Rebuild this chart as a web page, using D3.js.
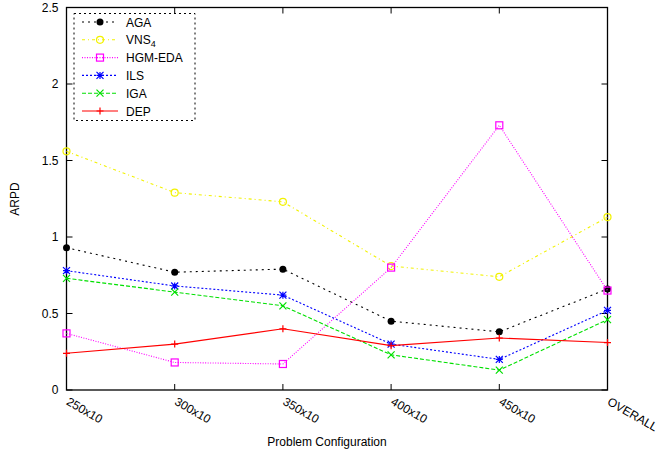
<!DOCTYPE html>
<html>
<head>
<meta charset="utf-8">
<script src="https://cdn.jsdelivr.net/npm/d3@7"></script>
<style>
  body { margin: 0; background: #fff; }
  text { font-family: "Liberation Sans", Arial, sans-serif; }
</style>
</head>
<body>
<script>
var categories = ["250x10", "300x10", "350x10", "400x10", "450x10", "OVERALL"];
var yTicks = [0, 0.5, 1, 1.5, 2, 2.5];

var aga = [0.93, 0.77, 0.79, 0.45, 0.38, 0.66];
var vns = [1.56, 1.29, 1.23, 0.81, 0.74, 1.13];
var hgm = [0.37, 0.18, 0.17, 0.80, 1.73, 0.65];
var ils = [0.78, 0.68, 0.62, 0.30, 0.20, 0.52];
var iga = [0.73, 0.64, 0.55, 0.23, 0.13, 0.46];
var dep = [0.24, 0.30, 0.40, 0.29, 0.34, 0.31];

var series = [
  {name: "AGA", values: aga, color: "#000000", dash: "2,4", marker: "dot"},
  {name: "VNS", sub: "4", values: vns, color: "#f2f200", dash: "3,3,1,3", marker: "circle"},
  {name: "HGM-EDA", values: hgm, color: "#ff00ff", dash: "1,1.5", marker: "square"},
  {name: "ILS", values: ils, color: "#0000ff", dash: "2,2", marker: "star"},
  {name: "IGA", values: iga, color: "#00e000", dash: "4,2", marker: "cross"},
  {name: "DEP", values: dep, color: "#ff0000", dash: null, marker: "plus"}
];

var width = 657, height = 454;
var plotLeft = 66.5, plotRight = 607.5, plotTop = 7.5, plotBottom = 390;

var svg = d3.select("body").append("svg")
  .attr("width", width)
  .attr("height", height);

var x = d3.scalePoint().domain(categories).range([plotLeft, plotRight]);
var y = d3.scaleLinear().domain([0, 2.5]).range([plotBottom, plotTop]);

// ticks (mirrored, inward)
var tickLen = 6;
yTicks.forEach(function(t){
  svg.append("line").attr("x1", plotLeft).attr("x2", plotLeft + tickLen)
    .attr("y1", y(t)).attr("y2", y(t)).attr("stroke", "#000");
  svg.append("line").attr("x1", plotRight).attr("x2", plotRight - tickLen)
    .attr("y1", y(t)).attr("y2", y(t)).attr("stroke", "#000");
  svg.append("text").attr("x", plotLeft - 8).attr("y", y(t) + 4)
    .attr("text-anchor", "end").attr("font-size", 12)
    .text(t);
});
categories.forEach(function(c){
  svg.append("line").attr("x1", x(c)).attr("x2", x(c))
    .attr("y1", plotBottom).attr("y2", plotBottom - tickLen).attr("stroke", "#000");
  svg.append("line").attr("x1", x(c)).attr("x2", x(c))
    .attr("y1", plotTop).attr("y2", plotTop + tickLen).attr("stroke", "#000");
  svg.append("text")
    .attr("transform", "translate(" + (x(c) - 1) + "," + (plotBottom + 14) + ") rotate(30)")
    .attr("font-size", 12)
    .text(c);
});

// frame
svg.append("rect").attr("x", plotLeft).attr("y", plotTop)
  .attr("width", plotRight - plotLeft).attr("height", plotBottom - plotTop)
  .attr("fill", "none").attr("stroke", "#000").attr("stroke-width", 1.3);

// axis titles
svg.append("text").attr("x", 327).attr("y", 446)
  .attr("text-anchor", "middle").attr("font-size", 12)
  .text("Problem Configuration");
svg.append("text")
  .attr("transform", "translate(19,199) rotate(-90)")
  .attr("text-anchor", "middle").attr("font-size", 12)
  .text("ARPD");

var line = d3.line()
  .x(function(d, i){ return x(categories[i]); })
  .y(function(d){ return y(d); });

function drawMarker(g, type, cx, cy, color){
  if (type == "dot") {
    g.append("circle").attr("cx", cx).attr("cy", cy).attr("r", 3.5).attr("fill", color);
  } else if (type == "circle") {
    g.append("circle").attr("cx", cx).attr("cy", cy).attr("r", 3.5)
      .attr("fill", "none").attr("stroke", color).attr("stroke-width", 1.2);
  } else if (type == "square") {
    g.append("rect").attr("x", cx - 3.5).attr("y", cy - 3.5).attr("width", 7).attr("height", 7)
      .attr("fill", "none").attr("stroke", color).attr("stroke-width", 1.2);
  } else {
    var p = "";
    var s = 3.5;
    if (type == "plus" || type == "star") p += "M" + (cx - s) + "," + cy + "H" + (cx + s) + "M" + cx + "," + (cy - s) + "V" + (cy + s);
    if (type == "cross" || type == "star") p += "M" + (cx - s) + "," + (cy - s) + "L" + (cx + s) + "," + (cy + s) + "M" + (cx - s) + "," + (cy + s) + "L" + (cx + s) + "," + (cy - s);
    g.append("path").attr("d", p).attr("stroke", color).attr("stroke-width", 1.2).attr("fill", "none");
  }
}

series.forEach(function(s){
  var g = svg.append("g");
  g.append("path").datum(s.values)
    .attr("d", line)
    .attr("fill", "none")
    .attr("stroke", s.color)
    .attr("stroke-width", 1.1)
    .attr("stroke-dasharray", s.dash);
  s.values.forEach(function(v, i){
    drawMarker(g, s.marker, x(categories[i]), y(v), s.color);
  });
});

// legend
var lg = svg.append("g");
lg.append("rect").attr("x", 74).attr("y", 13.5).attr("width", 121).attr("height", 107)
  .attr("fill", "#fff").attr("stroke", "#000").attr("stroke-dasharray", "2,3");
series.forEach(function(s, i){
  var ly = 22 + i * 17.8;
  lg.append("line").attr("x1", 82).attr("x2", 118).attr("y1", ly).attr("y2", ly)
    .attr("stroke", s.color).attr("stroke-width", 1.1).attr("stroke-dasharray", s.dash);
  drawMarker(lg, s.marker, 100, ly, s.color);
  var t = lg.append("text").attr("x", 126).attr("y", ly + 4.5).attr("font-size", 12).text(s.name);
  if (s.sub) t.append("tspan").attr("font-size", 9).attr("dy", 3).text(s.sub);
});
</script>
</body>
</html>
